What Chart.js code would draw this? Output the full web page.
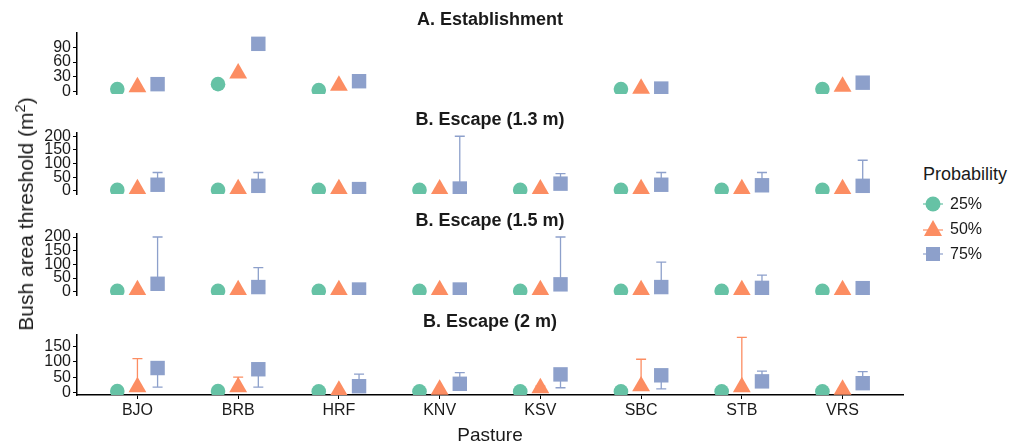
<!DOCTYPE html>
<html>
<head>
<meta charset="utf-8">
<script src="https://cdn.jsdelivr.net/npm/chart.js@4.4.0/dist/chart.umd.min.js"></script>
<style>
body { margin: 0; background: #fff; width: 1010px; height: 447px; position: relative; overflow: hidden;
       font-family: "Liberation Sans", Arial, sans-serif; color: #1a1a1a; }
.panel { position: absolute; left: 0; width: 910px; }
#ytitle { position: absolute; left: 25px; top: 214px; transform: translate(-50%, -50%) rotate(-90deg);
          white-space: nowrap; font-size: 21px; }
#ytitle sup { font-size: 0.7em; }
#legend { position: absolute; left: 921px; top: 164px; }
#legend .ttl { font-size: 18px; margin: 0 0 6px 2px; }
#legend .item { display: flex; align-items: center; height: 25px; }
#legend .item span { font-size: 16px; margin-left: 5px; }
</style>
</head>
<body>
<div class="panel" id="wrapA" style="top:0px;height:104px"><canvas id="panelA"></canvas></div>
<div class="panel" id="wrapB" style="top:100px;height:104px"><canvas id="panelB"></canvas></div>
<div class="panel" id="wrapC" style="top:201px;height:104px"><canvas id="panelC"></canvas></div>
<div class="panel" id="wrapD" style="top:302px;height:145px"><canvas id="panelD"></canvas></div>
<div id="ytitle">Bush area threshold (m<sup>2</sup>)</div>
<div id="legend">
  <div class="ttl">Probability</div>
  <div class="item"><svg width="24" height="20"><line x1="2" y1="10" x2="22" y2="10" stroke="#66C2A5" stroke-width="1.2"/><circle cx="12" cy="10" r="7.5" fill="#66C2A5"/></svg><span>25%</span></div>
  <div class="item"><svg width="24" height="20"><line x1="2" y1="11" x2="22" y2="11" stroke="#FC8D62" stroke-width="1.2"/><polygon points="12,1 21,17 3,17" fill="#FC8D62"/></svg><span>50%</span></div>
  <div class="item"><svg width="24" height="20"><line x1="2" y1="10" x2="22" y2="10" stroke="#8DA0CB" stroke-width="1.2"/><rect x="5" y="3" width="14" height="14" fill="#8DA0CB"/></svg><span>75%</span></div>
</div>
<script>
var pastures = ['BJO', 'BRB', 'HRF', 'KNV', 'KSV', 'SBC', 'STB', 'VRS'];
var probLabels = ['25%', '50%', '75%'];

// A. Establishment (no error bars)
var estab25 = [5, 15, 3, null, null, 5, null, 5];
var estab50 = [9, 37, 12, null, null, 6, null, 10];
var estab75 = [15, 97, 21, null, null, 6, null, 18];
var estabTicks = [0, 30, 60, 90];

// B. Escape (1.3 m)
var esc13_25 = [3, 3, 3, 3, 3, 3, 3, 3];
var esc13_50 = [6, 6, 6, 5, 5, 6, 6, 6];
var esc13_75 = [22, 18, 6, 8, 26, 22, 20, 18];
var esc13_75hi = [67, 67, null, 200, 63, 67, 67, 112];
var escTicks = [0, 50, 100, 150, 200];

// B. Escape (1.5 m)
var esc15_25 = [3, 3, 3, 3, 3, 3, 3, 3];
var esc15_50 = [6, 6, 6, 6, 6, 6, 6, 6];
var esc15_75 = [29, 17, 8, 8, 27, 17, 14, 13];
var esc15_75hi = [200, 88, null, null, 200, 108, 61, null];

// B. Escape (2 m)
var esc2_25 = [4, 4, 3, 3, 3, 3, 3, 3];
var esc2_50 = [17, 17, 6, 9, 14, 20, 17, 9];
var esc2_50hi = [111, 50, null, null, 20, 109, 181, null];
var esc2_75 = [80, 76, 20, 28, 59, 56, 36, 30];
var esc2_75lo = [17, 17, null, null, 15, 11, null, null];
var esc2_75hi = [null, null, 60, 65, null, null, 70, 68];
var esc2Ticks = [0, 50, 100, 150];

var none = [null, null, null, null, null, null, null, null];
var colors = ['#66C2A5', '#FC8D62', '#8DA0CB'];
var shapes = ['circle', 'triangle', 'rect'];
var radii = [7.3, 10.3, 10.2];
var dodge = [-0.2, 0, 0.2];
var font = '"Liberation Sans", Arial, sans-serif';

var errorBars = {
	id: 'errorBars',
	beforeDatasetsDraw(chart) {
		const {ctx, chartArea, scales: {x, y}} = chart;
		ctx.save();
		ctx.beginPath();
		ctx.rect(chartArea.left, chartArea.top, chartArea.width, chartArea.height);
		ctx.clip();
		chart.data.datasets.forEach(function(ds) {
			ctx.strokeStyle = ds.backgroundColor;
			ctx.lineWidth = 1.3;
			ds.data.forEach(function(p) {
				if (p.lo == null && p.hi == null) return;
				var px = x.getPixelForValue(p.x);
				var yTop = y.getPixelForValue(p.hi != null ? p.hi : p.y);
				var yBot = y.getPixelForValue(p.lo != null ? p.lo : p.y);
				ctx.beginPath();
				ctx.moveTo(px, yTop);
				ctx.lineTo(px, yBot);
				if (p.hi != null) { ctx.moveTo(px - 5, yTop); ctx.lineTo(px + 5, yTop); }
				if (p.lo != null) { ctx.moveTo(px - 5, yBot); ctx.lineTo(px + 5, yBot); }
				ctx.stroke();
			});
		});
		ctx.restore();
	}
};

function makePanel(id, title, values, lows, highs, yMin, yMax, ticks, showX) {
	var datasets = values.map(function(vals, s) {
		var pts = [];
		vals.forEach(function(v, i) {
			if (v == null) return;
			pts.push({x: i + dodge[s], y: v, lo: lows[s][i], hi: highs[s][i]});
		});
		return {
			label: probLabels[s],
			data: pts,
			pointStyle: shapes[s],
			pointRadius: radii[s],
			pointHoverRadius: radii[s],
			backgroundColor: colors[s],
			borderColor: colors[s],
			borderWidth: 0,
			showLine: false
		};
	});

	new Chart(document.getElementById(id), {
		type: 'scatter',
		data: {datasets: datasets},
		plugins: [errorBars],
		options: {
			responsive: true,
			maintainAspectRatio: false,
			animation: false,
			events: [],
			layout: {autoPadding: false, padding: {left: 0, right: 7, top: 0, bottom: showX ? 0 : 10}},
			plugins: {
				legend: {display: false},
				tooltip: {enabled: false},
				title: {
					display: true,
					text: title,
					fullSize: false,
					color: '#1a1a1a',
					font: {family: font, size: 18, weight: 'bold'},
					padding: {top: 9, bottom: 2.4}
				}
			},
			scales: {
				x: {
					type: 'linear',
					min: -0.6,
					max: 7.6,
					display: showX,
					afterBuildTicks: function(s) { s.ticks = pastures.map(function(c, i) { return {value: i}; }); },
					afterFit: function(s) {
						s.height = showX ? 52 : 0;
						s.paddingLeft = 0; s.paddingRight = 0;
					},
					grid: {drawOnChartArea: false, drawTicks: true, tickLength: 4, color: '#000'},
					border: {display: true, color: '#000', width: 1.5},
					ticks: {
						callback: function(v) { return pastures[v]; },
						color: '#1a1a1a',
						font: {family: font, size: 16},
						padding: 2,
						autoSkip: false,
						maxRotation: 0
					},
					title: {
						display: true,
						text: 'Pasture',
						color: '#1a1a1a',
						font: {family: font, size: 19},
						padding: {top: 0, bottom: 0}
					}
				},
				y: {
					min: yMin,
					max: yMax,
					afterBuildTicks: function(s) { s.ticks = ticks.map(function(v) { return {value: v}; }); },
					afterFit: function(s) { s.width = 77; s.paddingTop = 0; s.paddingBottom = 0; },
					grid: {drawOnChartArea: false, drawTicks: true, tickLength: 4, color: '#000'},
					border: {display: true, color: '#000', width: 1.5},
					ticks: {
						color: '#1a1a1a',
						font: {family: font, size: 16},
						padding: 2,
						autoSkip: false
					}
				}
			}
		}
	});
}

makePanel('panelA', 'A. Establishment', [estab25, estab50, estab75],
	[none, none, none], [none, none, none], -5, 119, estabTicks, false);
makePanel('panelB', 'B. Escape (1.3 m)', [esc13_25, esc13_50, esc13_75],
	[none, none, none], [none, none, esc13_75hi], -12, 212, escTicks, false);
makePanel('panelC', 'B. Escape (1.5 m)', [esc15_25, esc15_50, esc15_75],
	[none, none, none], [none, none, esc15_75hi], -12, 211, escTicks, false);
makePanel('panelD', 'B. Escape (2 m)', [esc2_25, esc2_50, esc2_75],
	[none, none, esc2_75lo], [none, esc2_50hi, esc2_75hi], -9, 189, esc2Ticks, true);
</script>
</body>
</html>
